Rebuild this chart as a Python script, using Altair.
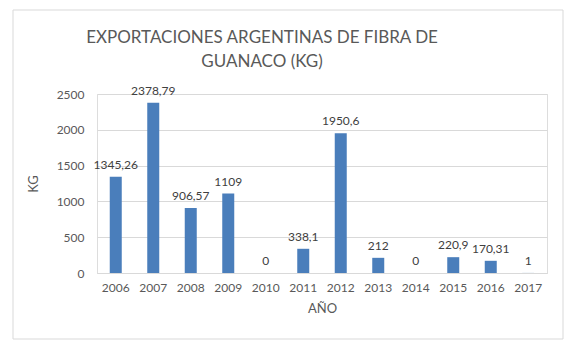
import altair as alt
import pandas as pd

years = ["2006", "2007", "2008", "2009", "2010", "2011", "2012", "2013", "2014", "2015", "2016", "2017"]
values = [1345.26, 2378.79, 906.57, 1109, 0, 338.1, 1950.6, 212, 0, 220.9, 170.31, 1]
labels = ["1345,26", "2378,79", "906,57", "1109", "0", "338,1", "1950,6", "212", "0", "220,9", "170,31", "1"]
y_ticks = [0, 500, 1000, 1500, 2000, 2500]
title_lines = ["EXPORTACIONES ARGENTINAS DE FIBRA DE", "GUANACO (KG)"]

df = pd.DataFrame({"year": years, "kg": values, "label": labels})
one = pd.DataFrame({"k": [0]})

FONT = "Lato"
GREY = "#595959"

x_enc = alt.X("year:N", title="AÑO", sort=years,
              scale=alt.Scale(paddingInner=0.68, paddingOuter=0.34),
              axis=alt.Axis(labelAngle=0, labelFontSize=12, labelColor=GREY, labelFont=FONT,
                            titleFont=FONT, titleFontSize=13, titleColor=GREY, titleFontWeight="normal",
                            domainColor="#d9d9d9", ticks=False, labelPadding=9, titlePadding=9))
y_enc = alt.Y("kg:Q", title="KG",
              scale=alt.Scale(domain=[0, 2500]),
              axis=alt.Axis(values=y_ticks, format="d", labelOverlap=False,
                            labelFontSize=12, labelColor=GREY, labelFont=FONT,
                            titleFont=FONT, titleFontSize=13, titleColor=GREY, titleFontWeight="normal",
                            domain=False, ticks=False, gridColor="#d9d9d9", labelPadding=13,
                            titlePadding=16))

border = alt.Chart(one).mark_rect(fill=None, stroke="#d9d9d9", strokeWidth=1, clip=False).encode(
    x=alt.value(-84), x2=alt.value(466), y=alt.value(-84), y2=alt.value(245)
)

t1 = alt.Chart(one).mark_text(text=title_lines[0], font=FONT, fontSize=17, color=GREY,
                              fontWeight="normal", baseline="middle", align="center").encode(
    x=alt.value(165), y=alt.value(-56))
t2 = alt.Chart(one).mark_text(text=title_lines[1], font=FONT, fontSize=17, color=GREY,
                              fontWeight="normal", baseline="middle", align="center").encode(
    x=alt.value(165), y=alt.value(-32))

bars = alt.Chart(df).mark_bar(color="#4a7ebb").encode(x=x_enc, y=y_enc)
text = alt.Chart(df).mark_text(baseline="bottom", dy=-5, fontSize=12, color="#404040", font=FONT).encode(
    x=x_enc, y=y_enc, text="label:N"
)

chart = alt.layer(border, bars, text, t1, t2).properties(
    width=450, height=179,
    autosize=alt.AutoSizeParams(type="none"),
    padding={"left": 97, "top": 94, "right": 29, "bottom": 80},
).configure_view(stroke=None).configure(background="white")

chart.save("out.html", embed_options={"renderer": "svg", "actions": False})
